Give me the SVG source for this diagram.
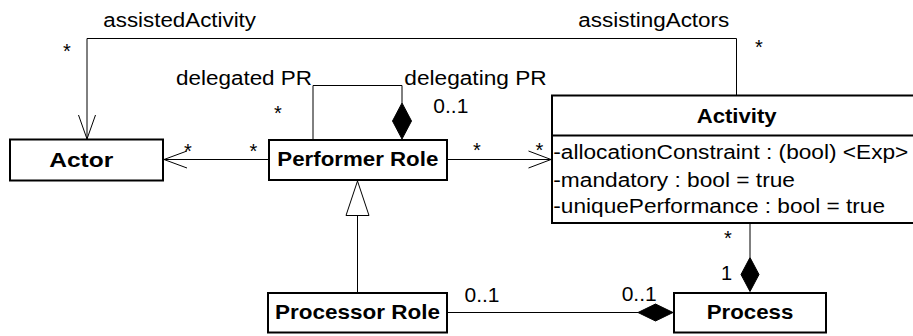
<svg xmlns="http://www.w3.org/2000/svg" width="913" height="336" viewBox="0 0 913 336">
<style>
.box{fill:#fff;stroke:#000;stroke-width:2}
.ln{fill:none;stroke:#000;stroke-width:1}
.dia{fill:#000;stroke:#000;stroke-width:1}
.tri{fill:#fff;stroke:#000;stroke-width:1}
text{font-family:"Liberation Sans",Arial,sans-serif;fill:#000}
.t{font-size:20px}
.b{font-size:21px;font-weight:bold}
</style>
<rect width="913" height="336" fill="#fff"/>
<g id="connectors">
  <polyline class="ln" points="736.5,95 736.5,38.5 87,38.5 87,139"/>
  <polyline class="ln" points="78.5,115 87,139 95.5,115"/>
  <polyline class="ln" points="313,139 313,85.5 402,85.5 402,103"/>
  <polygon class="dia" points="402,103 411.5,121 402,139 392.5,121"/>
  <line class="ln" x1="268" y1="159.5" x2="164" y2="159.5"/>
  <polyline class="ln" points="187,151 164,159.5 187,168"/>
  <line class="ln" x1="448" y1="159.5" x2="551" y2="159.5"/>
  <polyline class="ln" points="528.5,151 551,159.5 528.5,168"/>
  <line class="ln" x1="357.5" y1="292" x2="357.5" y2="215.5"/>
  <polygon class="tri" points="357.5,181 346,215.5 369,215.5"/>
  <line class="ln" x1="448" y1="312.5" x2="638" y2="312.5"/>
  <polygon class="dia" points="638,312.5 655.5,304 673,312.5 655.5,321"/>
  <line class="ln" x1="750" y1="224" x2="750" y2="257.5"/>
  <polygon class="dia" points="750,257.5 759,274.5 750,291.5 741,274.5"/>
  <text class="t" x="103.3" y="26.7" textLength="152.7" lengthAdjust="spacingAndGlyphs">assistedActivity</text>
  <text class="t" x="63" y="57.5">*</text>
  <text class="t" x="578.3" y="26.7" textLength="151" lengthAdjust="spacingAndGlyphs">assistingActors</text>
  <text class="t" x="755" y="53.5">*</text>
  <text class="t" x="176" y="85" textLength="136" lengthAdjust="spacingAndGlyphs">delegated PR</text>
  <text class="t" x="404.3" y="85" textLength="142.4" lengthAdjust="spacingAndGlyphs">delegating PR</text>
  <text class="t" x="274" y="120">*</text>
  <text class="t" x="433.3" y="113.3" textLength="35" lengthAdjust="spacingAndGlyphs">0..1</text>
  <text class="t" x="184" y="157.5">*</text>
  <text class="t" x="249.5" y="157.5">*</text>
  <text class="t" x="473" y="157">*</text>
  <text class="t" x="535.5" y="157">*</text>
  <text class="t" x="464.5" y="301.5" textLength="35" lengthAdjust="spacingAndGlyphs">0..1</text>
  <text class="t" x="621.7" y="301" textLength="35" lengthAdjust="spacingAndGlyphs">0..1</text>
  <text class="t" x="724" y="245">*</text>
  <text class="t" x="721" y="280">1</text>
</g>
<g id="actor">
  <rect class="box" x="10" y="139.5" width="153" height="41"/>
  <text class="b" x="49.3" y="166.7" textLength="64" lengthAdjust="spacingAndGlyphs">Actor</text>
</g>
<g id="performer-role">
  <rect class="box" x="269" y="140" width="178" height="40"/>
  <text class="b" x="277.3" y="165.7" textLength="161" lengthAdjust="spacingAndGlyphs">Performer Role</text>
</g>
<g id="activity">
  <rect class="box" x="552" y="95.5" width="370" height="127.5"/>
  <line class="box" x1="552" y1="135.5" x2="922" y2="135.5"/>
  <text class="b" x="696.7" y="123.3" textLength="80" lengthAdjust="spacingAndGlyphs">Activity</text>
  <text class="t" x="553.3" y="159" textLength="355" lengthAdjust="spacingAndGlyphs">-allocationConstraint : (bool) &lt;Exp&gt;</text>
  <text class="t" x="553.3" y="186.7" textLength="241.7" lengthAdjust="spacingAndGlyphs">-mandatory : bool = true</text>
  <text class="t" x="553.3" y="213.3" textLength="331.7" lengthAdjust="spacingAndGlyphs">-uniquePerformance : bool = true</text>
</g>
<g id="processor-role">
  <rect class="box" x="268" y="293" width="179" height="39.5"/>
  <text class="b" x="275" y="319.3" textLength="165" lengthAdjust="spacingAndGlyphs">Processor Role</text>
</g>
<g id="process">
  <rect class="box" x="674" y="293" width="152" height="39.5"/>
  <text class="b" x="706.7" y="319.3" textLength="86.6" lengthAdjust="spacingAndGlyphs">Process</text>
</g>
</svg>
